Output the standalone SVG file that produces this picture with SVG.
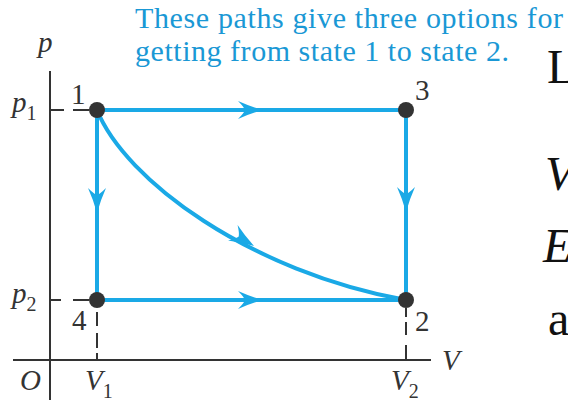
<svg xmlns="http://www.w3.org/2000/svg" width="568" height="402" viewBox="0 0 568 402">
<style>
.ax{stroke:#333;stroke-width:2;fill:none}
.path{stroke:#1aa9e6;stroke-width:4;fill:none}
.ah{fill:#1aa9e6}
.dot{fill:#333}
.lbl{font-size:29px;fill:#333}
.it{font-style:italic}
.sub{font-size:20px}
.note{font-size:30px;fill:#1a98d5}
.body{font-size:48px;fill:#111}
</style>
<defs>
<path id="ah" d="M0,0 Q-14,-4 -25,-9 Q-19,-3 -18,0 Q-19,3 -25,9 Q-14,4 0,0 Z"/>
</defs>
<g id="axes">
<line class="ax" x1="50" y1="71" x2="50" y2="400"/>
<line class="ax" x1="13" y1="360" x2="431" y2="360"/>
<line class="ax" x1="50" y1="110" x2="64" y2="110"/>
<line class="ax" x1="73" y1="110" x2="89" y2="110"/>
<line class="ax" x1="50" y1="300" x2="61" y2="300"/>
<line class="ax" x1="73" y1="300" x2="89" y2="300"/>
<line class="ax" x1="97" y1="312" x2="97" y2="326"/>
<line class="ax" x1="97" y1="333" x2="97" y2="348"/>
<line class="ax" x1="97" y1="353" x2="97" y2="360"/>
<line class="ax" x1="406" y1="308" x2="406" y2="317"/>
<line class="ax" x1="406" y1="322" x2="406" y2="335"/>
<line class="ax" x1="406" y1="345" x2="406" y2="360"/>
</g>
<g id="connectors">
<line class="path" x1="97" y1="110" x2="406" y2="110"/>
<line class="path" x1="97" y1="300" x2="406" y2="300"/>
<line class="path" x1="97" y1="110" x2="97" y2="300"/>
<line class="path" x1="406" y1="110" x2="406" y2="300"/>
<path class="path" d="M97,110 C125,180 250,272 406,300"/>
<use href="#ah" class="ah" transform="translate(263,110)"/>
<use href="#ah" class="ah" transform="translate(263,300)"/>
<use href="#ah" class="ah" transform="translate(97,213) rotate(90)"/>
<use href="#ah" class="ah" transform="translate(406,212) rotate(90)"/>
<use href="#ah" class="ah" transform="translate(254,246) rotate(32)"/>
</g>
<g font-family="'Liberation Serif', 'Times New Roman', 'DejaVu Serif', serif">
<g id="state1"><circle class="dot" cx="97" cy="110" r="8"/><text class="lbl" x="71" y="104">1</text></g>
<g id="state3"><circle class="dot" cx="406" cy="110" r="8"/><text class="lbl" x="415" y="100">3</text></g>
<g id="state4"><circle class="dot" cx="97" cy="300" r="8"/><text class="lbl" x="72" y="330">4</text></g>
<g id="state2"><circle class="dot" cx="406" cy="300" r="8"/><text class="lbl" x="415" y="331">2</text></g>
<g id="labels">
<text class="lbl it" x="38" y="52">p</text>
<text class="lbl it" x="12" y="112">p<tspan class="sub" font-style="normal" dy="8">1</tspan></text>
<text class="lbl it" x="12" y="303">p<tspan class="sub" font-style="normal" dy="8">2</tspan></text>
<text class="lbl it" x="20" y="390">O</text>
<text class="lbl it" x="85" y="390">V<tspan class="sub" font-style="normal" dy="8">1</tspan></text>
<text class="lbl it" x="391" y="390">V<tspan class="sub" font-style="normal" dy="8">2</tspan></text>
<text class="lbl it" x="442" y="370">V</text>
</g>
<g id="note">
<text class="note" x="135" y="28" textLength="428" lengthAdjust="spacing">These paths give three options for</text>
<text class="note" x="135" y="61" textLength="374" lengthAdjust="spacing">getting from state 1 to state 2.</text>
</g>
<g id="bodytext">
<text class="body" x="547" y="83">L</text>
<text class="body it" x="545" y="190">V</text>
<text class="body it" x="543" y="262">E</text>
<text class="body" x="548" y="335">a</text>
</g>
</g>
</svg>
